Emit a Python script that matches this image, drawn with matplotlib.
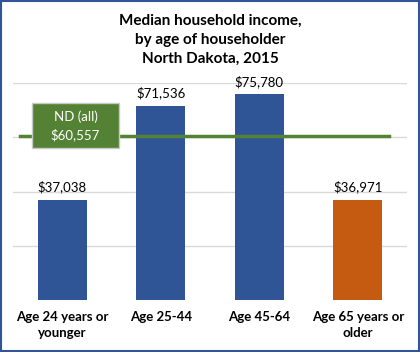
import matplotlib.pyplot as plt
from matplotlib.patches import Rectangle

plt.rcParams['font.family'] = ['Lato', 'DejaVu Sans']

# data
categories = ["Age 24 years or\nyounger", "Age 25-44", "Age 45-64", "Age 65 years or\nolder"]
incomes = [37038, 71536, 75780, 36971]
state_all = 60557
bar_colors = ["#2F5597", "#2F5597", "#2F5597", "#C55A11"]

fig = plt.figure(figsize=(4.2, 3.52), dpi=100)
ax = fig.add_axes([13/420, 1-300/352, 394/420, 217/352])

x = list(range(len(categories)))
ax.bar(x, incomes, width=0.5, color=bar_colors, zorder=2)
for xi, v in zip(x, incomes):
    ax.text(xi, v + 2500, "${:,}".format(v), ha='center', va='bottom', fontsize=9.5, color='black')

# state-wide line
ax.plot([-0.43, 3.32], [state_all, state_all], color="#548235", lw=2.5, zorder=3)

ax.set_xlim(-0.5, 3.5)
ax.set_ylim(0, 80000)
ax.set_yticks([20000, 40000, 60000, 80000])
ax.grid(axis='y', color='#D9D9D9', lw=1, zorder=0)
ax.tick_params(left=False, bottom=False, labelleft=False, labelbottom=False)
for s in ax.spines.values():
    s.set_visible(False)

for xi, c in zip(x, categories):
    ax.text(xi, -4200, c, ha='center', va='top', fontsize=9.5, fontweight='bold', linespacing=1.4)

# label box
fig.patches.append(Rectangle((32/420, 1-148/352), 87/420, 45/352, transform=fig.transFigure,
                             facecolor="#548235", edgecolor="#C8C8C8", lw=1, zorder=5))
fig.text(75.5/420, 1-125.5/352, "ND (all)\n$60,557", ha='center', va='center', color='white',
         fontsize=9.5, linespacing=1.5, zorder=6)

fig.text(0.5, 1-40/352, "Median household income,\nby age of householder\nNorth Dakota, 2015",
         ha='center', va='center', fontsize=11, fontweight='bold', linespacing=1.45)

fig.patches.append(Rectangle((0.002, 0.003), 0.995, 0.994, transform=fig.transFigure,
                             facecolor='none', edgecolor="#2F5597", lw=1.5))

fig.savefig("out.png", dpi=100)
